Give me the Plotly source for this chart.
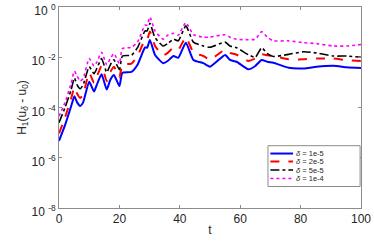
import plotly.graph_objects as go

t = [0, 2, 4, 5.1, 6, 7, 8, 10, 11.6, 12.5, 14.1, 15.8, 17, 18.2, 20, 21, 24, 26, 28.5, 29.2,
     30.1, 31.8, 34.5, 36, 37.9, 39.5, 42, 44.5, 47.8, 50, 55, 56.6, 58.8, 62.7, 65, 67.1,
     69, 71, 76, 81, 85.3, 90.8, 95.3, 100]

h_1e5 = [4.7e-6, 2.0e-5, 1.1e-4, 2.8e-4, 1.6e-4, 1.15e-4, 1.6e-4, 1.07e-3, 4.3e-4, 7.9e-4,
         2.1e-3, 5.2e-4, 1.26e-3, 1.95e-3, 7.1e-4, 2.4e-3, 2.6e-3, 5.0e-3, 2.45e-2, 2.4e-2,
         4.9e-2, 1.23e-2, 5.8e-3, 7.1e-3, 1.12e-2, 9.5e-3, 3.8e-2, 7.8e-3, 5.8e-3, 4.2e-3,
         1.23e-2, 7.8e-3, 6.6e-3, 3.3e-3, 4.5e-3, 7.8e-3, 6.6e-3, 6.0e-3, 3.8e-3, 3.6e-3,
         4.2e-3, 4.6e-3, 4.0e-3, 3.7e-3]

h_2e5 = [9.3e-6, 4.0e-5, 2.2e-4, 6.3e-4, 3.5e-4, 2.4e-4, 3.3e-4, 2.4e-3, 9.5e-4, 1.66e-3,
         4.5e-3, 1.12e-3, 2.6e-3, 4.2e-3, 1.58e-3, 5.0e-3, 5.6e-3, 1.12e-2, 5.0e-2, 5.0e-2,
         0.105, 2.8e-2, 1.2e-2, 1.5e-2, 2.4e-2, 2.0e-2, 6.2e-2, 1.58e-2, 1.12e-2, 8.1e-3,
         2.0e-2, 1.5e-2, 1.26e-2, 7.1e-3, 9.0e-3, 1.3e-2, 1.2e-2, 1.12e-2, 8.3e-3, 8.3e-3,
         8.9e-3, 8.9e-3, 7.6e-3, 7.1e-3]

h_5e5 = [2.5e-5, 1.0e-4, 5.0e-4, 1.5e-3, 8.0e-4, 5.6e-4, 7.9e-4, 4.2e-3, 2.2e-3, 3.5e-3,
         8.9e-3, 2.5e-3, 5.0e-3, 7.9e-3, 3.2e-3, 1.12e-2, 1.2e-2, 2.4e-2, 0.112, 0.112,
         0.224, 6.0e-2, 2.8e-2, 3.5e-2, 5.2e-2, 4.5e-2, 0.178, 4.0e-2, 2.8e-2, 2.5e-2,
         4.0e-2, 2.8e-2, 2.4e-2, 1.26e-2, 1.0e-2, 2.4e-2, 1.4e-2, 1.07e-2, 1.3e-2, 1.66e-2,
         1.48e-2, 1.12e-2, 1.12e-2, 1.0e-2]

h_1e4 = [4.5e-5, 1.6e-4, 8.9e-4, 2.8e-3, 1.8e-3, 1.12e-3, 1.4e-3, 8.9e-3, 4.5e-3, 6.3e-3,
         1.58e-2, 5.0e-3, 8.9e-3, 1.4e-2, 5.6e-3, 2.2e-2, 2.5e-2, 4.0e-2, 0.19, 0.19,
         0.4, 0.112, 5.2e-2, 7.6e-2, 8.9e-2, 7.6e-2, 0.24, 7.9e-2, 6.3e-2, 6.3e-2,
         7.9e-2, 6.3e-2, 5.2e-2, 5.0e-2, 5.2e-2, 0.105, 6.3e-2, 4.5e-2, 4.5e-2, 3.8e-2,
         3.5e-2, 2.8e-2, 2.8e-2, 3.2e-2]

labels = ["<i>δ</i> = 1e-5", "<i>δ</i> = 2e-5", "<i>δ</i> = 5e-5", "<i>δ</i> = 1e-4"]
series = [h_1e5, h_2e5, h_5e5, h_1e4]
colors = ["#0000ff", "#ff0000", "#000000", "#ff00ff"]
dashes = ["solid", "dash", "dashdot", "dot"]
widths = [2, 2, 1.6, 1.6]

fig = go.Figure()
for lab, ys, c, d, w in zip(labels, series, colors, dashes, widths):
    fig.add_trace(go.Scatter(x=t, y=ys, mode="lines", name=lab, showlegend=False,
                             line=dict(color=c, dash=d, width=w, shape="spline", smoothing=0.5)))

# compact legend box (MATLAB style), drawn in paper coordinates
leg_x0, leg_x1, leg_y0, leg_y1 = 0.692, 0.997, 0.107, 0.310
row_y = [0.271, 0.231, 0.189, 0.147]
fig.add_shape(type="rect", xref="paper", yref="paper", x0=leg_x0, x1=leg_x1, y0=leg_y0, y1=leg_y1,
              line=dict(color="#8c8c8c", width=1), fillcolor="white", layer="above")
for lab, c, d, w, ry in zip(labels, colors, dashes, widths, row_y):
    fig.add_shape(type="line", xref="paper", yref="paper", x0=0.700, x1=0.775, y0=ry, y1=ry,
                  line=dict(color=c, dash=d, width=w), layer="above")
    fig.add_annotation(xref="paper", yref="paper", x=0.782, y=ry, text=lab, showarrow=False,
                       xanchor="left", yanchor="middle", borderpad=0,
                       font=dict(size=7.5, color="#262626"))

axis_common = dict(showgrid=False, zeroline=False, showline=True, mirror="ticks",
                   linecolor="#8c8c8c", linewidth=1, ticks="inside", ticklen=3,
                   tickcolor="#8c8c8c", automargin=False, ticklabeloverflow="allow",
                   tickfont=dict(size=12, color="#262626"))

fig.update_xaxes(range=[0, 100], tickvals=[0, 20, 40, 60, 80, 100],
                 title=dict(text="t", font=dict(size=12, color="#262626"), standoff=0),
                 **axis_common)
fig.update_yaxes(type="log", range=[-8, 0], tickvals=[1e-8, 1e-6, 1e-4, 1e-2, 1],
                 ticktext=["10 <sup>-8</sup>", "10 <sup>-6</sup>", "10 <sup>-4</sup>",
                           "10 <sup>-2</sup>", "10 <sup>0</sup>"],
                 ticklabelshift=4,
                 title=dict(text="H<sub>1</sub>(u<sub><i>δ</i></sub> - u<sub>0</sub>)",
                            font=dict(size=12, color="#262626"), standoff=2),
                 **axis_common)

fig.update_layout(
    width=374, height=242,
    margin=dict(l=59, r=13, t=7, b=34),
    paper_bgcolor="white", plot_bgcolor="white",
    font=dict(family="Liberation Sans, Arial, sans-serif", color="#262626"),
    showlegend=False,
)

fig.write_html("out.html", config={"displayModeBar": False},
               post_script="document.body.style.margin='0';")
